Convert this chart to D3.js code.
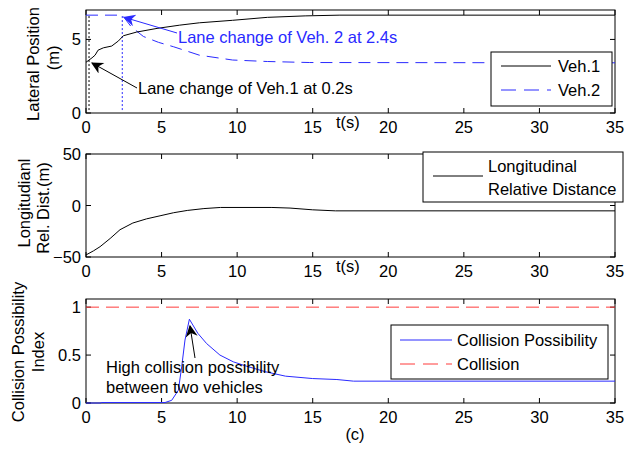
<!DOCTYPE html>
<html>
<head>
<meta charset="utf-8">
<script src="https://cdn.jsdelivr.net/npm/d3@7"></script>
<style>
  body { margin: 0; background: #fff; }
  text { font-family: Arial, "Liberation Sans", sans-serif; }
</style>
</head>
<body>
<div id="chart"></div>
<script>
// ---- data ----
const tVeh1 = [0, 0.4, 0.6, 0.8, 1.15, 1.7, 2.15, 2.47, 3.35, 4.7, 6.2, 7.5, 9.7, 12, 14.5, 16.8, 35];
const yVeh1 = [3.45, 3.75, 3.93, 4.27, 4.43, 4.55, 4.9, 5.25, 5.5, 5.75, 5.97, 6.13, 6.3, 6.5, 6.6, 6.65, 6.65];

const tVeh2 = [0, 2.4, 3.0, 3.8, 4.8, 5.8, 7.5, 9.7, 12, 14.8, 35];
const yVeh2 = [6.65, 6.65, 5.85, 5.2, 4.8, 4.5, 3.93, 3.6, 3.5, 3.43, 3.41];

const tLong = [0, 0.5, 0.93, 1.6, 2.25, 3.1, 4.0, 4.9, 5.8, 6.7, 7.8, 8.9, 12.3, 13.5, 15, 16.5, 35];
const yLong = [-48, -44, -40, -32, -23.5, -17, -13, -10, -7, -4.8, -3, -1.9, -1.9, -2.5, -4.2, -5.2, -5.2];

const tColl = [0, 1, 1.01, 5.23, 5.67, 6.11, 6.33, 6.55, 6.84, 7.4, 7.98, 8.86, 9.74, 10.6, 11.9, 13.2, 15, 16.6, 17.7, 35];
const yColl = [0, 0, 0.005, 0.005, 0.028, 0.133, 0.377, 0.657, 0.874, 0.727, 0.62, 0.5, 0.43, 0.385, 0.325, 0.28, 0.255, 0.245, 0.228, 0.228];

const lcVeh1 = 0.2, lcVeh2 = 2.4, collisionLevel = 1;
const xTicks = [0, 5, 10, 15, 20, 25, 30, 35];

const W = 626, H = 452, FS = 16.5;
const BLUE = '#2a2aff', RED = '#ff3b3b';
const svg = d3.select('#chart').append('svg').attr('width', W).attr('height', H);

const x = d3.scaleLinear().domain([0, 35]).range([86, 615]);

const defs = svg.append('defs');
function marker(id, color) {
  defs.append('marker').attr('id', id)
    .attr('viewBox', '0 0 10 10').attr('refX', 9).attr('refY', 5)
    .attr('markerWidth', 16).attr('markerHeight', 12).attr('markerUnits', 'userSpaceOnUse')
    .attr('orient', 'auto')
    .append('path').attr('d', 'M0,0 L10,5 L0,10 L3,5 Z').attr('fill', color);
}
marker('arrBlack', '#000');
marker('arrBlue', BLUE);

// draw a framed MATLAB-like axis
function panel(top, bottom, yDomain, yTicks, fmt, showT) {
  const y = d3.scaleLinear().domain(yDomain).range([bottom, top]);
  const g = svg.append('g');
  g.append('rect').attr('x', x.range()[0]).attr('y', top)
    .attr('width', x.range()[1] - x.range()[0]).attr('height', bottom - top)
    .attr('fill', 'none').attr('stroke', '#000').attr('stroke-width', 1);
  const ax = g.append('g');
  xTicks.forEach(v => {
    ax.append('line').attr('x1', x(v)).attr('x2', x(v)).attr('y1', bottom).attr('y2', bottom - 5).attr('stroke', '#000');
    ax.append('line').attr('x1', x(v)).attr('x2', x(v)).attr('y1', top).attr('y2', top + 5).attr('stroke', '#000');
    ax.append('text').attr('x', x(v)).attr('y', bottom + 20).attr('text-anchor', 'middle')
      .attr('font-size', FS).text(v);
  });
  yTicks.forEach(v => {
    ax.append('line').attr('x1', x(0)).attr('x2', x(0) + 5).attr('y1', y(v)).attr('y2', y(v)).attr('stroke', '#000');
    ax.append('line').attr('x1', x(35)).attr('x2', x(35) - 5).attr('y1', y(v)).attr('y2', y(v)).attr('stroke', '#000');
    ax.append('text').attr('x', 81).attr('y', y(v) + 6).attr('text-anchor', 'end')
      .attr('font-size', FS).text(fmt(v));
  });
  if (showT) {
    g.append('text').attr('x', 336).attr('y', bottom + 15).attr('font-size', FS).text('t(s)');
  }
  return { g, y };
}

function ylabel(lines, xs, cys) {
  lines.forEach((s, i) => {
    svg.append('text').attr('transform', `translate(${xs[i]},${cys[i]}) rotate(-90)`)
      .attr('text-anchor', 'middle').attr('font-size', FS).text(s);
  });
}

const line = (y) => d3.line().x(d => x(d[0])).y(d => y(d[1]));

// ---- panel 1: lateral position ----
const p1 = panel(10, 113, [0, 7], [0, 5], d3.format('d'), true);
ylabel(['Lateral Position', '(m)'], [39, 59], [64, 58]);
p1.g.append('line').attr('x1', x(lcVeh1)).attr('x2', x(lcVeh1)).attr('y1', p1.y(0.2)).attr('y2', p1.y(6.65))
  .attr('stroke', '#000').attr('stroke-dasharray', '2,2');
p1.g.append('line').attr('x1', x(lcVeh2)).attr('x2', x(lcVeh2)).attr('y1', p1.y(0.2)).attr('y2', p1.y(6.65))
  .attr('stroke', BLUE).attr('stroke-dasharray', '2,2');
p1.g.append('path').datum(d3.zip(tVeh2, yVeh2)).attr('d', line(p1.y))
  .attr('fill', 'none').attr('stroke', BLUE).attr('stroke-dasharray', '12,7');
p1.g.append('path').datum(d3.zip(tVeh1, yVeh1)).attr('d', line(p1.y))
  .attr('fill', 'none').attr('stroke', '#000');
// annotations
p1.g.append('line').attr('x1', 177).attr('y1', 33).attr('x2', x(lcVeh2) + 2).attr('y2', p1.y(6.5))
  .attr('stroke', BLUE).attr('marker-end', 'url(#arrBlue)');
p1.g.append('text').attr('x', 178).attr('y', 43).attr('font-size', FS).attr('fill', BLUE)
  .text('Lane change of Veh. 2 at 2.4s');
p1.g.append('line').attr('x1', 137).attr('y1', 88).attr('x2', x(lcVeh1) + 3).attr('y2', p1.y(3.4))
  .attr('stroke', '#000').attr('marker-end', 'url(#arrBlack)');
p1.g.append('text').attr('x', 138).attr('y', 94).attr('font-size', FS).attr('fill', '#000')
  .text('Lane change of Veh.1 at 0.2s');
// legend
const l1 = p1.g.append('g');
l1.append('rect').attr('x', 491).attr('y', 52).attr('width', 121).attr('height', 54)
  .attr('fill', '#fff').attr('stroke', '#000');
l1.append('line').attr('x1', 501).attr('x2', 551).attr('y1', 66).attr('y2', 66).attr('stroke', '#000');
l1.append('line').attr('x1', 501).attr('x2', 551).attr('y1', 90).attr('y2', 90)
  .attr('stroke', BLUE).attr('stroke-dasharray', '15,8');
l1.append('text').attr('x', 558).attr('y', 72).attr('font-size', FS).text('Veh.1');
l1.append('text').attr('x', 558).attr('y', 96).attr('font-size', FS).text('Veh.2');

// ---- panel 2: longitudinal relative distance ----
const p2 = panel(154, 257, [-50, 50], [-50, 0, 50], d3.format('d'), true);
ylabel(['Longitudianl', 'Rel. Dist.(m)'], [30, 49], [203, 208]);
p2.g.append('path').datum(d3.zip(tLong, yLong)).attr('d', line(p2.y))
  .attr('fill', 'none').attr('stroke', '#000');
const l2 = p2.g.append('g');
l2.append('rect').attr('x', 423).attr('y', 152).attr('width', 200).attr('height', 50)
  .attr('fill', '#fff').attr('stroke', '#000');
l2.append('line').attr('x1', 433).attr('x2', 483).attr('y1', 176).attr('y2', 176).attr('stroke', '#000');
l2.append('text').attr('x', 488).attr('y', 172).attr('font-size', FS).text('Longitudinal');
l2.append('text').attr('x', 488).attr('y', 195).attr('font-size', FS).text('Relative Distance');

// ---- panel 3: collision possibility ----
const p3 = panel(299, 403, [0, 1.085], [0, 0.5, 1], d => d === 0.5 ? '0.5' : d3.format('d')(d), false);
ylabel(['Collision Possibility', 'Index'], [24, 44], [352, 352]);
p3.g.append('line').attr('x1', x(0)).attr('x2', x(35)).attr('y1', p3.y(collisionLevel)).attr('y2', p3.y(collisionLevel))
  .attr('stroke', RED).attr('stroke-dasharray', '13,7');
p3.g.append('path').datum(d3.zip(tColl, yColl)).attr('d', line(p3.y))
  .attr('fill', 'none').attr('stroke', BLUE);
p3.g.append('line').attr('x1', 195).attr('y1', 358).attr('x2', 190).attr('y2', 326)
  .attr('stroke', '#000').attr('marker-end', 'url(#arrBlack)');
p3.g.append('text').attr('x', 106).attr('y', 373).attr('font-size', FS).text('High collision possibility');
p3.g.append('text').attr('x', 106).attr('y', 393).attr('font-size', FS).text('between two vehicles');
const l3 = p3.g.append('g');
l3.append('rect').attr('x', 391).attr('y', 325).attr('width', 217).attr('height', 54)
  .attr('fill', '#fff').attr('stroke', '#000');
l3.append('line').attr('x1', 400).attr('x2', 452).attr('y1', 340).attr('y2', 340).attr('stroke', BLUE);
l3.append('line').attr('x1', 400).attr('x2', 452).attr('y1', 364).attr('y2', 364)
  .attr('stroke', RED).attr('stroke-dasharray', '15,8');
l3.append('text').attr('x', 457).attr('y', 346).attr('font-size', FS).text('Collision Possibility');
l3.append('text').attr('x', 457).attr('y', 370).attr('font-size', FS).text('Collision');

svg.append('text').attr('x', 355).attr('y', 440).attr('text-anchor', 'middle').attr('font-size', FS).text('(c)');
</script>
</body>
</html>
